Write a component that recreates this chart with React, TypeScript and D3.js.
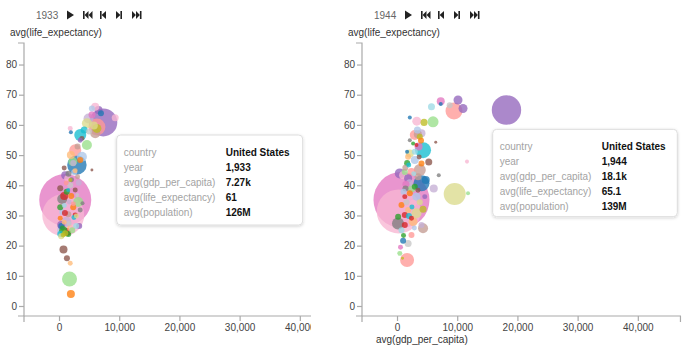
import React from "react";
import * as d3 from "d3";

// ---------- data ----------
const category20 = [
  "#1f77b4", "#aec7e8", "#ff7f0e", "#ffbb78", "#2ca02c", "#98df8a", "#d62728", "#ff9896", "#9467bd", "#c5b0d5",
  "#8c564b", "#c49c94", "#e377c2", "#f7b6d2", "#7f7f7f", "#c7c7c7", "#bcbd22", "#dbdb8d", "#17becf", "#9edae5",
];

const countries = [
  "Japan", "Canada", "Netherlands", "Belgium", "Italy", "Spain", "Mexico", "United Kingdom", "United States", "Denmark",
  "Portugal", "Greece", "China", "India", "Russia", "Poland", "Australia", "Kuwait", "France", "Switzerland",
  "Sweden", "Finland", "Norway", "Austria", "Hungary", "Ireland", "Romania", "Bulgaria", "New Zealand", "Yugoslavia",
  "Albania", "Czechoslovakia", "Germany", "Iceland", "Luxembourg", "Estonia", "Latvia", "Lithuania", "South Africa", "Tunisia",
  "Chile", "Peru", "Colombia", "Venezuela", "Ecuador", "Bolivia", "Uruguay", "Paraguay", "Guatemala", "Honduras",
  "Nicaragua", "Panama", "Haiti", "Jamaica", "Dominican Republic", "El Salvador", "Costa Rica", "Trinidad", "Morocco", "Libya",
  "Egypt", "Cuba", "Turkey", "Iran", "Korea", "Philippines", "Indonesia", "Thailand", "Burma", "Vietnam",
  "Pakistan", "Sri Lanka", "Malaysia", "Mongolia", "Afghanistan", "Lebanon", "Jordan", "Saudi Arabia", "Algeria", "Taiwan",
  "Iraq", "Syria", "Nepal", "Ghana", "Kenya", "Mali", "Sudan", "Niger", "Chad", "Angola",
  "Yemen", "Ethiopia", "Nigeria", "Senegal", "Uganda", "Zambia", "Tanzania", "Mozambique", "Cameroon", "Madagascar",
  "Bangladesh", "Burundi", "Gabon", "Guinea", "Lesotho", "Mauritius", "Rwanda", "Somalia", "Togo", "Botswana",
  "Laos", "Israel", "Hong Kong", "Qatar", "Malta", "Slovenia", "Serbia", "Georgia", "Ukraine", "Uzbekistan",
  "Benin", "Congo", "Gambia", "Liberia", "Malawi", "Namibia", "Sierra Leone", "Swaziland", "Zimbabwe", "Cambodia",
  "Oman", "Singapore", "Bahrain", "Cyprus", "Fiji", "Croatia", "Armenia", "Belarus", "Kazakhstan", "Eritrea",
];

// [country, gdp_per_capita, life_expectancy, population (millions)]
type Row = [string, number, number, number];

const data1933: Row[] = [
  ["United States", 7270, 61, 126],
  ["United Kingdom", 6210, 59.5, 46.5],
  ["Canada", 5380, 65.6, 5.8],
  ["New Zealand", 6480, 65.1, 10.3],
  ["Sweden", 6880, 64.0, 5.8],
  ["Iceland", 5930, 66.2, 10.3],
  ["Cyprus", 9250, 62.5, 7.9],
  ["Denmark", 4820, 62.3, 16.1],
  ["Lithuania", 4550, 60.7, 16.1],
  ["Australia", 6210, 59.0, 13.0],
  ["Czechoslovakia", 5930, 57.4, 16.1],
  ["Mongolia", 1780, 59.0, 4.0],
  ["Chile", 1890, 57.7, 2.6],
  ["France", 3440, 56.8, 23.2],
  ["Portugal", 3720, 55.7, 4.0],
  ["Ireland", 4550, 53.5, 16.1],
  ["Guatemala", 3440, 55.1, 4.0],
  ["Bulgaria", 2610, 51.8, 23.2],
  ["Finland", 3720, 49.6, 16.1],
  ["Belgium", 1890, 50.2, 10.3],
  ["Netherlands", 3440, 48.5, 5.8],
  ["Japan", 2890, 46.9, 60.5],
  ["Albania", 5380, 45.2, 1.4],
  ["Burma", 950, 43.5, 10.3],
  ["China", 950, 35.3, 434.7],
  ["India", 620, 30.3, 283.6],
  ["Mexico", 780, 36.6, 10.3],
  ["Romania", 1230, 24.7, 10.3],
  ["Russia", 450, 35.6, 16.1],
  ["Spain", 3110, 34.6, 16.1],
  ["Norway", 2280, 32.9, 5.8],
  ["Luxembourg", 3440, 32.0, 4.0],
  ["Yugoslavia", 1110, 28.0, 16.1],
  ["Chad", 3270, 26.7, 5.8],
  ["Poland", 1780, 40.2, 5.8],
  ["Nicaragua", 2610, 38.6, 4.0],
  ["Latvia", 1780, 41.9, 2.6],
  ["Peru", 2440, 44.5, 5.8],
  ["Jamaica", 1280, 42.5, 5.8],
  ["Cuba", 280, 25.3, 10.3],
  ["South Africa", 120, 24.0, 5.8],
  ["Italy", 610, 25.3, 10.3],
  ["Hungary", 1450, 24.0, 5.8],
  ["Austria", 1780, 26.0, 5.8],
  ["Trinidad", 280, 23.3, 5.8],
  ["Costa Rica", 950, 24.3, 5.8],
  ["Togo", 280, 27.0, 10.3],
  ["Senegal", 2110, 25.9, 5.8],
  ["Uruguay", 2610, 30.3, 4.0],
  ["Syria", 450, 31.3, 5.8],
  ["Panama", 1450, 30.6, 5.8],
  ["Ecuador", 120, 32.9, 5.8],
  ["Colombia", 1940, 36.6, 5.8],
  ["Pakistan", 120, 39.2, 5.8],
  ["Morocco", 1450, 38.6, 2.6],
  ["Tunisia", 2770, 26.7, 5.8],
  ["Egypt", 280, 26.7, 5.8],
  ["Venezuela", 780, 27.9, 4.0],
  ["Bolivia", 2110, 25.3, 5.8],
  ["Jordan", 610, 23.7, 4.0],
  ["Turkey", 120, 29.2, 4.0],
  ["Honduras", 1610, 34.6, 4.0],
  ["Estonia", 2940, 36.9, 2.6],
  ["Paraguay", 1110, 40.9, 4.0],
  ["Vietnam", 2280, 47.5, 5.8],
  ["Yemen", 780, 45.9, 4.0],
  ["Afghanistan", 3820, 34.2, 2.6],
  ["Hong Kong", 5400, 63.5, 7.9],
  ["Slovenia", 4900, 58.0, 5.8],
  ["Kazakhstan", 4100, 58.5, 7.9],
  ["Georgia", 5700, 60.0, 10.3],
  ["Israel", 3000, 53.0, 5.8],
  ["Philippines", 2200, 48.0, 13.0],
  ["Fiji", 1500, 44.0, 5.8],
  ["Malta", 2000, 42.0, 4.0],
  ["Korea", 1200, 38.0, 5.8],
  ["Indonesia", 900, 31.0, 5.8],
  ["Thailand", 2300, 34.0, 4.0],
  ["Lebanon", 1600, 27.5, 4.0],
  ["Algeria", 2400, 29.5, 4.0],
  ["Taiwan", 800, 33.5, 4.0],
  ["Kenya", 500, 26.0, 4.0],
  ["Sri Lanka", 3000, 43.0, 4.0],
  ["Iran", 2600, 45.0, 4.0],
  ["Angola", 3200, 41.0, 5.8],
  ["Saudi Arabia", 2800, 30.0, 4.0],
  ["Laos", 660, 18.9, 10.3],
  ["Oman", 1230, 16.0, 5.8],
  ["Guinea", 1780, 14.3, 4.0],
  ["Mauritius", 1660, 9.1, 36.2],
  ["Gabon", 1890, 4.1, 10.3],
];

const data1944: Row[] = [
  ["United States", 18100, 65.1, 139],
  ["United Kingdom", 9380, 64.8, 46.5],
  ["New Zealand", 10050, 68.4, 13.0],
  ["Zimbabwe", 10880, 65.6, 13.0],
  ["Bahrain", 7180, 68.0, 10.3],
  ["Sweden", 7180, 67.1, 2.6],
  ["Switzerland", 5640, 66.2, 7.9],
  ["Estonia", 8670, 66.7, 5.8],
  ["Chile", 2040, 62.6, 2.6],
  ["Iceland", 3200, 61.4, 13.0],
  ["Australia", 4410, 61.0, 7.9],
  ["Ireland", 5900, 61.2, 19.5],
  ["Portugal", 6350, 54.4, 1.4],
  ["Qatar", 11540, 48.0, 2.6],
  ["Afghanistan", 6850, 43.5, 2.6],
  ["Kuwait", 9500, 37.3, 77.8],
  ["Mauritius", 11710, 37.5, 2.6],
  ["Denmark", 6020, 39.1, 10.3],
  ["France", 4240, 51.8, 41.2],
  ["Albania", 5190, 47.9, 7.9],
  ["Czechoslovakia", 3700, 45.2, 23.2],
  ["Japan", 3980, 40.8, 41.2],
  ["Greece", 4240, 25.9, 16.1],
  ["Thailand", 2320, 23.7, 5.8],
  ["Honduras", 3980, 27.0, 5.8],
  ["Russia", 80, 27.5, 23.2],
  ["Egypt", 930, 21.8, 5.8],
  ["Poland", 1760, 20.9, 7.9],
  ["Malaysia", 500, 19.6, 4.0],
  ["Spain", 380, 17.6, 4.0],
  ["Bulgaria", 1590, 15.4, 31.5],
  ["Latvia", 830, 16.0, 1.4],
  ["China", 660, 35.3, 504],
  ["India", 200, 31.5, 311],
  ["Paraguay", 2870, 56.8, 16.1],
  ["Yugoslavia", 3980, 57.4, 10.3],
  ["Costa Rica", 3700, 56.2, 5.8],
  ["Panama", 3370, 57.1, 10.3],
  ["Luxembourg", 2040, 55.1, 2.6],
  ["Italy", 2590, 54.0, 2.6],
  ["Mexico", 3150, 53.5, 2.6],
  ["Tunisia", 2870, 51.3, 5.8],
  ["Lithuania", 2040, 50.7, 10.3],
  ["Iraq", 1590, 51.3, 2.6],
  ["Belgium", 1760, 49.6, 5.8],
  ["Canada", 2870, 48.5, 10.3],
  ["Netherlands", 3980, 47.4, 5.8],
  ["Algeria", 1870, 46.9, 4.0],
  ["Niger", 2320, 44.6, 10.3],
  ["Bolivia", 1210, 44.6, 5.8],
  ["Mongolia", 930, 43.5, 10.3],
  ["Burma", 380, 44.1, 16.1],
  ["Guatemala", 1760, 42.5, 10.3],
  ["Bangladesh", 4690, 41.9, 10.3],
  ["Hungary", 2870, 39.7, 5.8],
  ["Philippines", 2320, 39.1, 10.3],
  ["Dominican Republic", 1330, 39.1, 5.8],
  ["Colombia", 2040, 37.5, 5.8],
  ["Peru", 3150, 36.4, 10.3],
  ["Chad", 4530, 36.4, 4.0],
  ["Uruguay", 1210, 36.4, 4.0],
  ["Senegal", 2590, 34.2, 7.9],
  ["Turkey", 660, 33.6, 5.8],
  ["Jordan", 4240, 32.2, 7.9],
  ["Austria", 1760, 32.0, 5.8],
  ["Trinidad", 3150, 30.9, 16.1],
  ["Romania", 1210, 30.3, 5.8],
  ["Indonesia", 2320, 29.2, 4.0],
  ["Ecuador", 100, 29.7, 5.8],
  ["Iran", 2590, 28.1, 13.0],
  ["Sudan", 1210, 27.0, 5.8],
  ["Libya", 660, 25.3, 5.8],
  ["Germany", 3500, 53.0, 10.3],
  ["Finland", 3300, 58.5, 7.9],
  ["Norway", 3900, 55.0, 5.8],
  ["Korea", 1600, 47.5, 5.8],
  ["Vietnam", 2000, 41.0, 7.9],
  ["Sri Lanka", 3400, 43.0, 7.9],
  ["Lebanon", 1500, 34.5, 5.8],
  ["Cuba", 1000, 38.0, 5.8],
  ["Pakistan", 3400, 38.5, 4.0],
  ["South Africa", 1900, 30.0, 5.8],
  ["Syria", 2800, 26.0, 4.0],
  ["Kenya", 1000, 23.5, 4.0],
  ["Taiwan", 2700, 44.0, 4.0],
  ["Yemen", 3600, 49.5, 4.0],
  ["Nigeria", 1400, 40.5, 7.9],
  ["Morocco", 2400, 33.0, 4.0],
  ["Saudi Arabia", 3700, 34.5, 5.8],
  ["Ethiopia", 1300, 46.0, 5.8],
];

const yTicks = [0, 10, 20, 30, 40, 50, 60, 70, 80];
const xTicks = [0, 10000, 20000, 30000, 40000];
const tooltipLabels = ["country", "year", "avg(gdp_per_capita)", "avg(life_expectancy)", "avg(population)"];
const focusCountry = "United States";

// ---------- layout ----------
const W = 685;
const H = 347;
const FONT = "'Liberation Sans', Arial, Helvetica, sans-serif";

const x = d3.scaleLinear().domain([-5900, 47000]).range([24, 24 + 52900 * 0.00602]);
const y = d3.scaleLinear().domain([-3.15, 87.3]).range([316, 43]);
const r = d3.scaleSqrt().domain([0, 126]).range([0, 14]);
const color = d3.scaleOrdinal<string, string>().domain(countries).range(category20);

const fmtComma = d3.format(",");
const fmtS = d3.format(".3~s");

function Controls({ year }: { year: number }) {
  const c = "#222";
  const t = 10.5, b = 19.5, m = 15;
  return (
    <g>
      <text x={36} y={19} fontSize={10} fill="#666" fontFamily={FONT}>{year}</text>
      <path d={`M67,${t}L74,${m}L67,${b}Z`} fill={c} />
      <g fill={c}>
        <rect x={83} y={t + 0.5} width={1.6} height={8} />
        <path d={`M88.5,${t + 0.5}L84.6,${m}L88.5,${b - 0.5}Z`} />
        <path d={`M92.5,${t + 0.5}L88.6,${m}L92.5,${b - 0.5}Z`} />
      </g>
      <g fill={c}>
        <rect x={100} y={t + 0.5} width={1.6} height={8} />
        <path d={`M106,${t + 0.5}L101.6,${m}L106,${b - 0.5}Z`} />
      </g>
      <g fill={c}>
        <path d={`M116,${t + 0.5}L120.4,${m}L116,${b - 0.5}Z`} />
        <rect x={120.4} y={t + 0.5} width={1.6} height={8} />
      </g>
      <g fill={c}>
        <path d={`M132,${t + 0.5}L135.9,${m}L132,${b - 0.5}Z`} />
        <path d={`M136,${t + 0.5}L139.9,${m}L136,${b - 0.5}Z`} />
        <rect x={139.9} y={t + 0.5} width={1.6} height={8} />
      </g>
    </g>
  );
}

function Tooltip({ row, year, bx, by, bw, bh }: { row: Row; year: number; bx: number; by: number; bw: number; bh: number }) {
  const values = [row[0], fmtComma(year), fmtS(row[1]), fmtS(row[2]), fmtS(row[3] * 1e6)];
  return (
    <g fontFamily={FONT} fontSize={10}>
      <rect x={bx} y={by} width={bw} height={bh} rx={4} fill="#fff" stroke="#ddd" strokeWidth={1} filter="url(#shadow)" />
      {tooltipLabels.map((lab, i) => (
        <g key={lab}>
          <text x={bx + 7} y={by + 20.5 + i * 15.1} fill="#a3a3a3">{lab}</text>
          <text x={bx + 109} y={by + 20.5 + i * 15.1} fill="#111" fontWeight="bold">{values[i]}</text>
        </g>
      ))}
    </g>
  );
}

function Panel({ data, year, dx, clipW, showXLabel, tip, id }: {
  data: Row[]; year: number; dx: number; clipW: number; showXLabel: boolean;
  tip: { bx: number; by: number; bw: number; bh: number }; id: string;
}) {
  const sorted = [...data].sort((a, b) => b[3] - a[3]);
  const focus = data.find((d) => d[0] === focusCountry)!;
  const x0 = x.range()[0];
  const x1 = x.range()[1];
  const y0 = y.range()[0];
  const y1 = y.range()[1];
  const axisColor = "#aaa";
  return (
    <g transform={`translate(${dx},0)`}>
      <defs>
        <clipPath id={id}>
          <rect x={0} y={0} width={clipW} height={H} />
        </clipPath>
      </defs>
      <Controls year={year} />
      <text x={10} y={36} fontSize={10} fill="#333" fontFamily={FONT}>avg(life_expectancy)</text>
      <g clipPath={`url(#${id})`}>
        <path d={`M${x0 - 6},${y1}H${x0}V${y0}H${x0 - 6}`} fill="none" stroke={axisColor} strokeWidth={1.2} />
        {yTicks.map((t) => (
          <g key={t} transform={`translate(0,${y(t)})`}>
            <line x1={x0 - 5} x2={x0} stroke={axisColor} strokeWidth={1.2} />
            <text x={x0 - 7} dy="0.32em" textAnchor="end" fontSize={10} fill="#444" fontFamily={FONT}>{t}</text>
          </g>
        ))}
        <path d={`M${x0},${y0 + 6}V${y0}H${x1}V${y0 + 6}`} fill="none" stroke={axisColor} strokeWidth={1.2} />
        {xTicks.map((t) => (
          <g key={t} transform={`translate(${x(t)},0)`}>
            <line y1={y0} y2={y0 + 5} stroke={axisColor} strokeWidth={1.2} />
            <text y={y0 + 8} dy="0.71em" textAnchor="middle" fontSize={10} fill="#444" fontFamily={FONT}>{fmtComma(t)}</text>
          </g>
        ))}
        {showXLabel && (
          <text x={38} y={343} fontSize={10} fill="#333" fontFamily={FONT}>avg(gdp_per_capita)</text>
        )}
        {sorted.map((d) => (
          <circle key={d[0]} cx={x(d[1])} cy={y(d[2])} r={r(d[3])} fill={color(d[0])} fillOpacity={0.78} />
        ))}
        <Tooltip row={focus} year={year} {...tip} />
      </g>
    </g>
  );
}

export default function App() {
  return (
    <div style={{ position: "absolute", left: 0, top: 0 }}>
      <svg width={W} height={H} style={{ display: "block", background: "#fff" }}>
        <defs>
          <filter id="shadow" x="-10%" y="-10%" width="120%" height="130%">
            <feDropShadow dx={0} dy={1} stdDeviation={1.5} floodColor="#000" floodOpacity={0.18} />
          </filter>
        </defs>
        <Panel id="clipA" data={data1933} year={1933} dx={0} clipW={311} showXLabel={false}
          tip={{ bx: 116.7, by: 135, bw: 186, bh: 90 }} />
        <Panel id="clipB" data={data1944} year={1944} dx={338} clipW={347} showXLabel={true}
          tip={{ bx: 154.7, by: 129.3, bw: 184.6, bh: 87.4 }} />
      </svg>
    </div>
  );
}
